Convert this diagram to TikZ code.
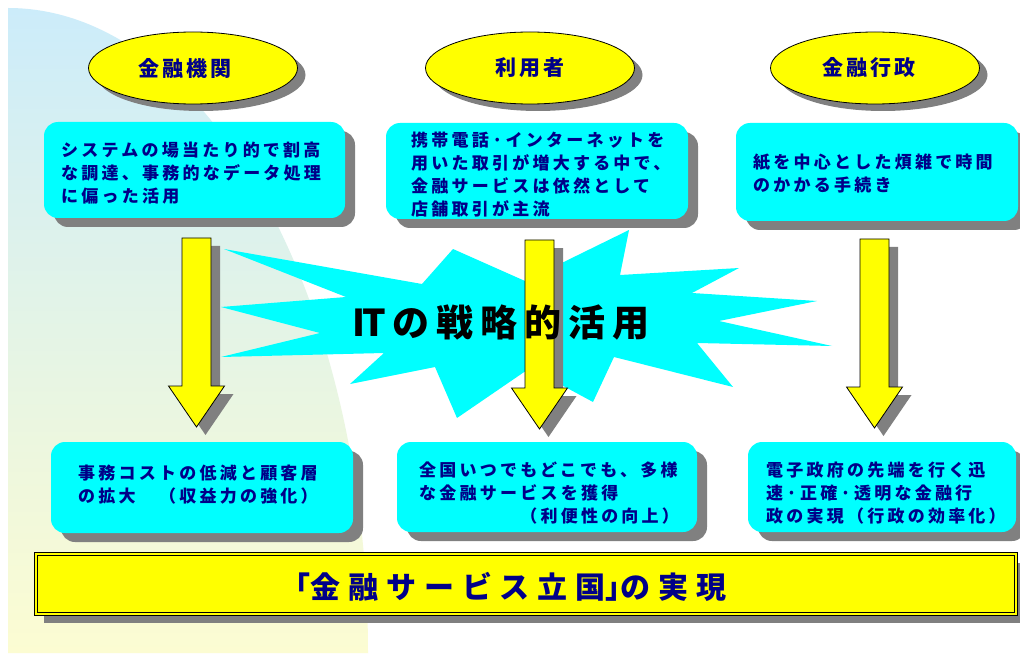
\documentclass[tikz,border=0pt]{standalone}
\usepackage{fontspec}
\usetikzlibrary{shapes.geometric,shadows,calc}
\newfontfamily\jpbox{Noto Sans CJK JP}[LetterSpace=19]
\newfontfamily\jptitle{Noto Sans CJK JP}[LetterSpace=14]
\newfontfamily\jpstar{Noto Sans CJK JP}[LetterSpace=19]
\newfontfamily\jpbanner{Noto Sans CJK JP}[LetterSpace=26]
\definecolor{navytext}{RGB}{0,0,136}
\definecolor{shadowgray}{RGB}{128,128,128}
\definecolor{boxcyan}{RGB}{0,255,255}
\definecolor{bgtop}{RGB}{204,236,250}
\definecolor{bgbottom}{RGB}{252,252,210}
\definecolor{arrowyellow}{RGB}{255,255,0}
\begin{document}
\begin{tikzpicture}[x=1pt,y=-1pt,
  cbox/.style={rectangle, rounded corners=14pt, fill=boxcyan, inner sep=0pt,
    drop shadow={shadow xshift=10pt, shadow yshift=-9pt, fill=shadowgray, opacity=1}},
  boxtext/.style={anchor=west, inner sep=0pt, align=left, text=navytext,
    font=\jpbox\bfseries\fontsize{17}{23}\selectfont},
  titleell/.style={ellipse, draw=black, line width=0.8pt, fill=arrowyellow,
    minimum width=209pt, minimum height=72pt, inner sep=0pt, text=navytext,
    font=\jptitle\bfseries\fontsize{21}{25}\selectfont,
    drop shadow={shadow xshift=8pt, shadow yshift=-7pt, fill=shadowgray, opacity=1}},
  blockarrow/.pic={
    \fill[shadowgray] (-5.5,8) -- (23.5,8) -- (23.5,156) -- (37,156) -- (9,197) -- (-19,156) -- (-5.5,156) -- cycle;
    \draw[fill=arrowyellow, line width=0.8pt, line join=miter] (-14.5,0) -- (14.5,0) -- (14.5,148) -- (28,148) -- (0,189) -- (-28,148) -- (-14.5,148) -- cycle;
  },
]
\useasboundingbox (0,0) rectangle (1020,655);
\fill[white] (0,0) rectangle (1020,655);
% background quarter ellipse with gradient
\shade[top color=bgtop, bottom color=bgbottom] (8,653) -- (8,8) arc[start angle=-90, end angle=0, x radius=360, y radius=645] -- cycle;

% top boxes
\node[cbox, minimum width=301pt, minimum height=96pt] (b1) at (194.5,170) {};
\node[cbox, minimum width=302pt, minimum height=96pt] (b2) at (537,171) {};
\node[cbox, minimum width=282pt, minimum height=98pt] (b3) at (877,172) {};
\node[boxtext] (t1) at (61,173.5) {システムの場当たり的で割高\\な調達、事務的なデータ処理\\に偏った活用};
\node[boxtext] (t2) at (411,174.5) {携帯電話·インターネットを\\用いた取引が増大する中で、\\金融サービスは依然として\\店舗取引が主流};
\node[boxtext] (t3) at (753,174) {紙を中心とした煩雑で時間\\のかかる手続き};

% bottom boxes
\node[cbox, minimum width=302pt, minimum height=91pt] (b4) at (202,487.5) {};
\node[cbox, minimum width=300pt, minimum height=90pt] (b5) at (547,487) {};
\node[cbox, minimum width=268pt, minimum height=90pt] (b6) at (882,487) {};
\node[boxtext] (t4) at (78,485) {事務コストの低減と顧客層\\の拡大　（収益力の強化）};
\node[boxtext] (t5) at (419,493) {全国いつでもどこでも、多様\\な金融サービスを獲得\\　　　　　（利便性の向上）};
\node[boxtext] (t6) at (766,493) {電子政府の先端を行く迅\\速·正確·透明な金融行\\政の実現（行政の効率化）};

% ellipses
\node[titleell] (e1) at (193,68) {金融機関\hspace*{16pt}};
\node[titleell] (e2) at (530,68) {利用者};
\node[titleell] (e3) at (875,68) {金融行政\hspace*{12pt}};

% star burst
\fill[boxcyan] (224,249) -- (422,284) -- (453,249) -- (525,281) -- (629,230) -- (620,275)
  -- (739,268) -- (692,293) -- (817,301) -- (719,321) -- (832,346) -- (697,343)
  -- (733,387) -- (614,357) -- (593,402) -- (530,368) -- (457,418) -- (435,367)
  -- (350,384) -- (384,353) -- (221,357) -- (320,333) -- (221,307) -- (346,297) -- cycle;

% block arrows
\pic (arrL) at (196.5,238) {blockarrow};
\pic (arrM) at (539.5,240) {blockarrow};
\pic (arrR) at (874.5,239) {blockarrow};

\node[inner sep=0pt, text=black, font=\jpstar\bfseries\fontsize{37}{40}\selectfont] (star) at (501,323) {I\kern-3ptTの戦略的活用};

% banner
\node[rectangle, draw=black, line width=1pt, double=arrowyellow, double distance=2pt,
  fill=arrowyellow, minimum width=980pt, minimum height=60pt, inner sep=0pt,
  drop shadow={shadow xshift=8pt, shadow yshift=-9pt, fill=shadowgray, opacity=1}] (ban) at (526,584) {};
\node[inner sep=0pt, text=navytext, font=\jpbanner\bfseries\fontsize{30}{32}\selectfont] (bant) at (511,587) {\makebox[15pt][r]{「}金融サービス立国\makebox[15pt][l]{」}の実現};
\end{tikzpicture}
\end{document}
